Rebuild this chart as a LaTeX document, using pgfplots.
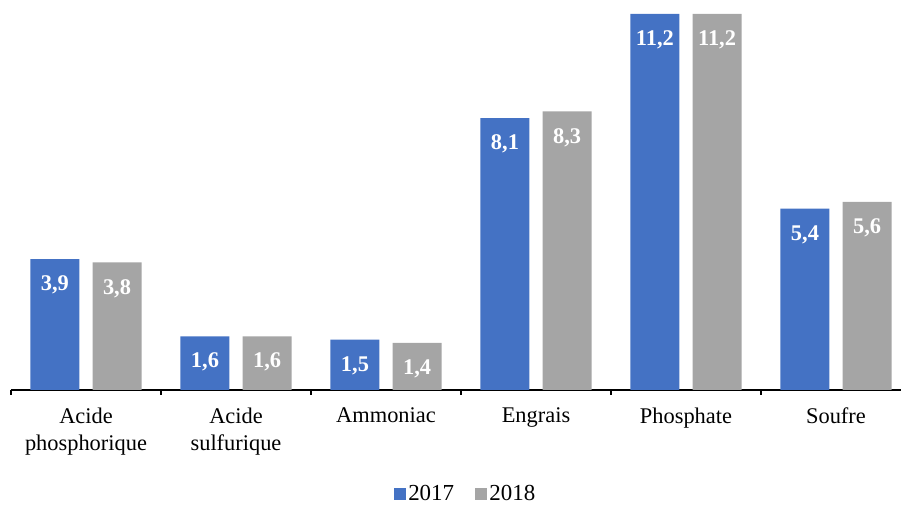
\documentclass[border=0pt]{standalone}
\usepackage{pgfplots}
\pgfplotsset{compat=1.18}
\usepackage{fontspec}
\setmainfont{Liberation Serif}
\definecolor{c17}{HTML}{4472C4}
\definecolor{c18}{HTML}{A5A5A5}
\begin{document}
\begin{tikzpicture}
\path[use as bounding box] (-8.25pt,-87pt) rectangle (667.5pt,292.5pt);
\begin{axis}[
  at={(0pt,0pt)}, anchor=south west,
  scale only axis, width=667.5pt, height=282pt,
  ymin=0, ymax=11.2,
  xmin=-0.5, xmax=5.4333,
  axis x line*=bottom, axis y line=none,
  axis line style={black, line width=0.9pt, -},
  ybar, bar width=0.327,
  xtick={-0.5,0.5,1.5,2.5,3.5,4.5},
  xticklabels={},
  major tick length=3.75pt, tick align=outside,
  xtick style={black, line width=0.9pt},
  extra x ticks={0,1,2,3,4,5},
  extra x tick labels={{Acide\\phosphorique},{Acide\\sulfurique},Ammoniac,Engrais,Phosphate,Soufre},
  extra x tick style={major tick length=0pt, xtick style={draw=none}},
  xticklabel style={align=center, font=\fontsize{16.8}{20.5}\selectfont, yshift=-10pt},
  nodes near coords={\pgfmathprintnumber[use comma,fixed,fixed zerofill,precision=1,assume math mode=true]{\pgfplotspointmeta}},
  every node near coord/.append style={anchor=center, yshift=-19.5pt, text=white, font=\bfseries\fontsize{16.8}{19}\selectfont},
  legend style={at={(0.511,-0.277)}, anchor=center, draw=none, fill=none, legend columns=2,
    font=\fontsize{17.2}{19}\selectfont, inner sep=1pt,
    /tikz/every even column/.append style={column sep=13.5pt}},
  legend image code/.code={\path[#1, draw=none] (-2pt,-4.5pt) rectangle (7pt,4.5pt);},
  legend cell align=left,
]
\addplot[fill=c17, draw=none, bar shift=-0.207] coordinates {(0,3.9) (1,1.6) (2,1.5) (3,8.1) (4,11.2) (5,5.4)};
\addplot[fill=c18, draw=none, bar shift=0.207] coordinates {(0,3.8) (1,1.6) (2,1.4) (3,8.3) (4,11.2) (5,5.6)};
\legend{2017,2018}
\end{axis}
\end{tikzpicture}
\end{document}
